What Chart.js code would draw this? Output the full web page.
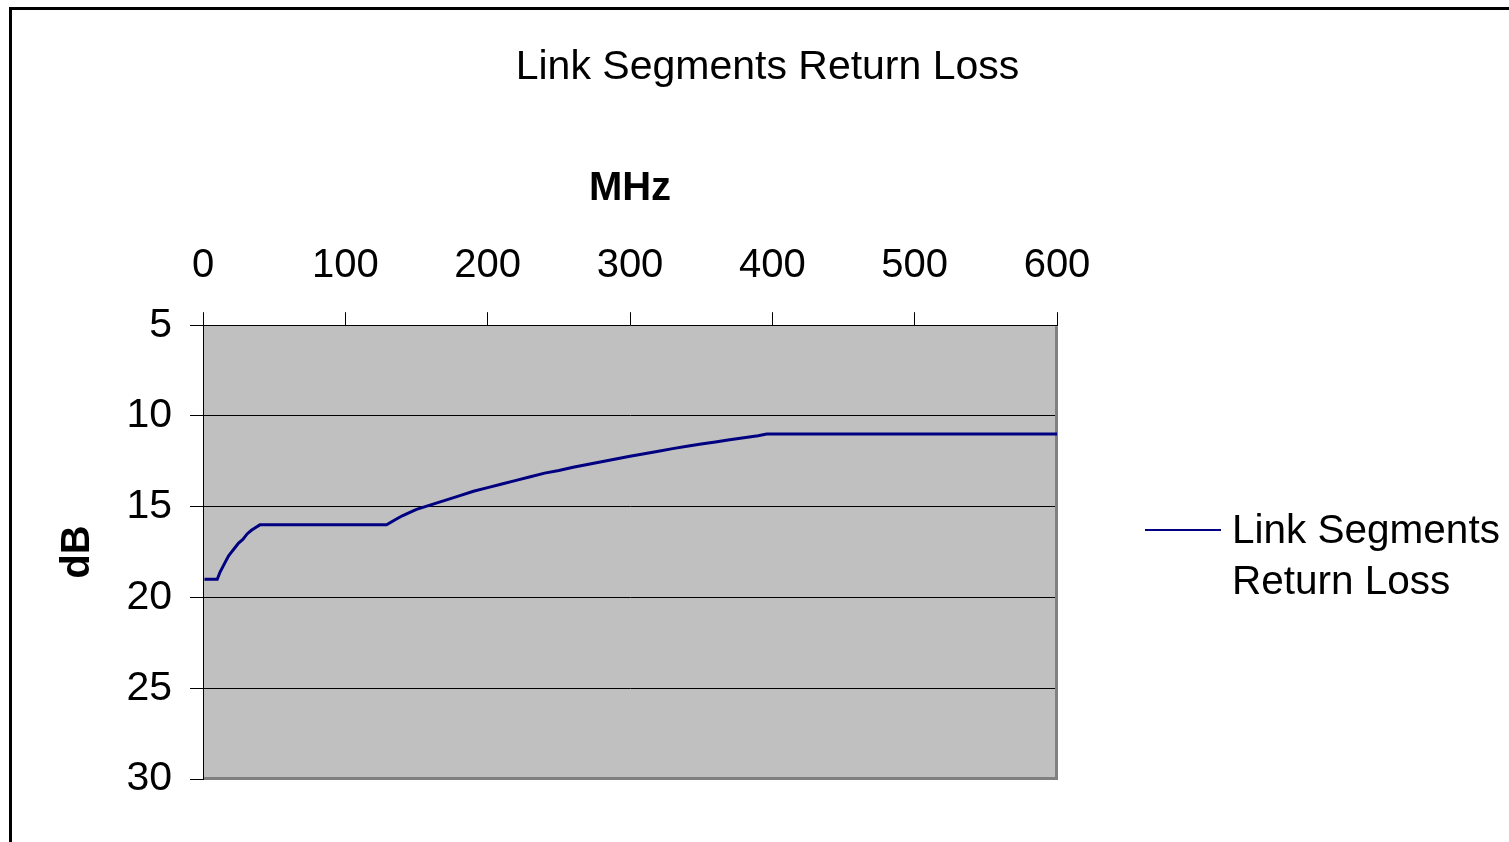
<!DOCTYPE html>
<html><head><meta charset="utf-8">
<script src="https://cdn.jsdelivr.net/npm/chart.js@4.4.1/dist/chart.umd.min.js"></script>
<style>
html,body{margin:0;padding:0;background:#fff;overflow:hidden;width:1509px;height:842px;}
#frame{position:absolute;left:9px;top:7px;width:1600px;height:900px;border:3px solid #000;box-sizing:border-box;}
#c{position:absolute;left:0;top:0;}
</style></head><body>
<div id="frame"></div>
<canvas id="c" width="1535" height="842"></canvas>
<script>
const chartTitle = 'Link Segments Return Loss';
const xAxisTitle = 'MHz';
const yAxisTitle = 'dB';
const seriesName = ['Link Segments', 'Return Loss'];
const freqMHz = [1, 5, 10, 12, 14, 16, 18, 20, 22, 25, 28, 31, 34, 37, 40, 50, 60, 80, 100, 120, 129,
  135, 140, 150, 160, 170, 180, 190, 200, 210, 220, 230, 240, 250, 260, 270, 280, 290, 300,
  310, 320, 330, 340, 350, 360, 370, 380, 390, 396, 450, 500, 550, 600];
const returnLossDb = [19, 19, 19, 18.6, 18.3, 18.0, 17.7, 17.5, 17.3, 17.0, 16.8, 16.5, 16.3, 16.15, 16, 16, 16, 16, 16, 16, 16,
  15.72, 15.5, 15.15, 14.9, 14.65, 14.4, 14.15, 13.95, 13.75, 13.55, 13.35, 13.15, 13.0, 12.83, 12.67, 12.52, 12.37, 12.22,
  12.08, 11.94, 11.8, 11.67, 11.55, 11.43, 11.31, 11.2, 11.09, 11.0, 11, 11, 11, 11];
const xMin = 0, xMax = 600, xStep = 100;
const yMin = 5, yMax = 30, yStep = 5;

const FONT = '"Liberation Sans", Arial, sans-serif';
Chart.defaults.font.family = FONT;
Chart.defaults.color = '#000';

const plotBg = {
  id: 'plotBg',
  beforeDraw(chart) {
    const {ctx, chartArea: a} = chart;
    ctx.save();
    ctx.fillStyle = '#c0c0c0';
    ctx.fillRect(a.left, a.top, a.right - a.left, a.bottom - a.top);
    ctx.restore();
  },
  beforeDatasetsDraw(chart) {
    const {ctx, chartArea: a} = chart;
    ctx.save();
    ctx.strokeStyle = '#808080';
    ctx.lineWidth = 3;
    ctx.beginPath();
    ctx.moveTo(a.right - 0.5, a.top + 1);
    ctx.lineTo(a.right - 0.5, a.bottom - 0.5);
    ctx.lineTo(a.left + 1, a.bottom - 0.5);
    ctx.stroke();
    ctx.restore();
  }
};

const sideLegend = {
  id: 'sideLegend',
  afterDraw(chart) {
    const {ctx, chartArea: a} = chart;
    const ds = chart.data.datasets[0];
    const yMid = (a.top + a.bottom) / 2 - 22;
    ctx.save();
    ctx.strokeStyle = ds.borderColor;
    ctx.lineWidth = 2;
    ctx.beginPath();
    ctx.moveTo(a.right + 88, yMid);
    ctx.lineTo(a.right + 164, yMid);
    ctx.stroke();
    ctx.font = '40.5px ' + FONT;
    ctx.fillStyle = '#000';
    ctx.textBaseline = 'middle';
    ctx.textAlign = 'left';
    seriesName.forEach((t, i) => ctx.fillText(t, a.right + 175, yMid + 2 + i * 51));
    ctx.restore();
  }
};

new Chart(document.getElementById('c'), {
  type: 'line',
  data: {
    datasets: [{
      label: seriesName.join(' '),
      data: freqMHz.map((f, i) => ({x: f, y: returnLossDb[i]})),
      borderColor: '#000080',
      borderWidth: 3,
      pointRadius: 0,
      tension: 0,
      fill: false
    }]
  },
  options: {
    responsive: false,
    animation: false,
    devicePixelRatio: 1,
    layout: {padding: {left: 0, right: 0, top: 0, bottom: 63}},
    plugins: {
      legend: {display: false},
      tooltip: {enabled: false},
      title: {
        display: true,
        text: chartTitle,
        color: '#000',
        font: {size: 41, weight: 'normal', family: FONT, lineHeight: 1.2},
        padding: {top: 43, bottom: 0}
      }
    },
    scales: {
      x: {
        type: 'linear',
        position: 'top',
        min: xMin, max: xMax,
        ticks: {stepSize: xStep, font: {size: 40}, color: '#000', padding: 22, maxRotation: 0},
        grid: {drawOnChartArea: false, drawTicks: true, tickLength: 13, tickColor: '#000', lineWidth: 1},
        border: {display: true, color: '#000', width: 1},
        title: {display: true, text: xAxisTitle, font: {size: 40, weight: 'bold'}, color: '#000', padding: {top: 73, bottom: 0}},
        afterFit: s => { s.height = 233; }
      },
      y: {
        type: 'linear',
        position: 'left',
        reverse: true,
        min: yMin, max: yMax,
        ticks: {stepSize: yStep, font: {size: 41}, color: '#000', padding: 18},
        grid: {
          drawTicks: true, tickLength: 13, lineWidth: 1,
          color: c => (c.tick && (c.tick.value === yMin || c.tick.value === yMax)) ? 'rgba(0,0,0,0)' : '#000',
          tickColor: '#000'
        },
        border: {display: true, color: '#000', width: 1},
        title: {display: true, text: yAxisTitle, font: {size: 40, weight: 'bold'}, color: '#000', padding: {top: 54, bottom: 0}},
        afterFit: s => { s.width = 203; }
      },
      legendSpace: {
        type: 'linear',
        position: 'right',
        display: true,
        min: 0, max: 1,
        ticks: {display: false},
        grid: {display: false},
        border: {display: false},
        afterFit: s => { s.width = 478; }
      }
    }
  },
  plugins: [plotBg, sideLegend]
});
</script>
</body></html>
